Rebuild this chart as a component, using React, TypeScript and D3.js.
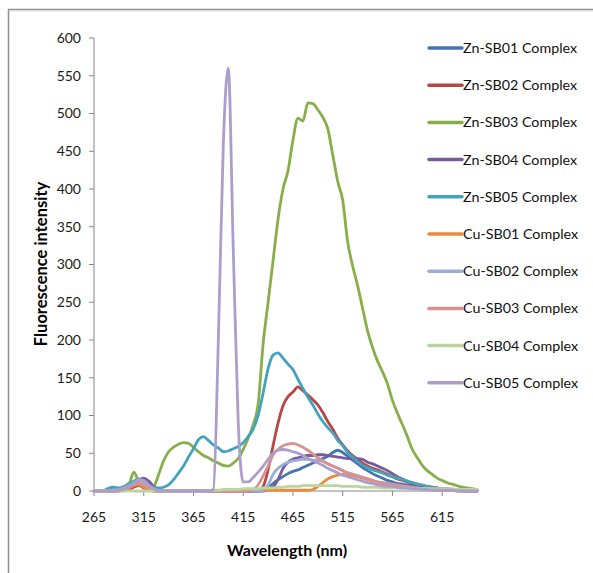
import React from "react";
import * as d3 from "d3";

// Wavelength grid (nm), 5 nm steps
const wavelengths: number[] = d3.range(265, 651, 5);

const seriesNames: string[] = [
  "Zn-SB01 Complex", "Zn-SB02 Complex", "Zn-SB03 Complex", "Zn-SB04 Complex", "Zn-SB05 Complex",
  "Cu-SB01 Complex", "Cu-SB02 Complex", "Cu-SB03 Complex", "Cu-SB04 Complex", "Cu-SB05 Complex",
];
const seriesColors: string[] = [
  "#4674B4", "#B54744", "#87AE48", "#765A9C", "#43A3BF",
  "#EE8A3E", "#97AFD8", "#D9918F", "#BCD49D", "#AC9DCB",
];

// values for 265..650 every 5 nm (78 values each)
const znSB01: number[] = [
  0, 0, 0, 0, 0, 1, 2, 4, 6, 8, 7, 4, 2, 1, 0, 0, 0, 0, 0, 0,
  0, 0, 0, 0, 0, 0, 0, 0, 0, 0, 0, 0, 0, 0, 1, 4, 10, 15, 19, 23,
  26, 28, 31, 34, 37, 40, 43, 46, 51, 54, 51, 46, 41, 36, 31, 27, 23, 20, 17, 14,
  12, 10, 9, 8, 7, 6, 5, 4, 3, 3, 2, 2, 1, 1, 1, 0, 0, 0,
];
const znSB02: number[] = [
  0, 0, 0, 0, 0, 0, 1, 2, 5, 7, 4, 1, 0, 0, 0, 0, 0, 0, 0, 0,
  0, 0, 0, 0, 0, 0, 0, 0, 0, 0, 0, 0, 0, 1, 6, 28, 60, 90, 113, 125,
  131, 138, 133, 127, 121, 114, 104, 92, 82, 70, 61, 53, 47, 42, 37, 33, 30, 28, 25, 22,
  19, 16, 14, 12, 10, 8, 6, 5, 4, 3, 2, 2, 1, 1, 1, 0, 0, 0,
];
const znSB03: number[] = [
  0, 0, 0, 0, 0, 1, 3, 8, 25, 12, 5, 4, 6, 22, 40, 52, 58, 62, 64, 63,
  58, 52, 47, 44, 40, 37, 34, 33, 37, 43, 55, 70, 88, 115, 195, 250, 305, 360, 400, 424,
  465, 494, 490, 514, 513, 505, 495, 480, 445, 410, 385, 330, 298, 272, 242, 212, 190, 172, 158, 142,
  120, 103, 88, 72, 55, 44, 34, 27, 22, 17, 14, 11, 9, 7, 5, 4, 3, 2,
];
const znSB04: number[] = [
  0, 0, 0, 0, 0, 1, 3, 6, 10, 15, 17, 13, 6, 2, 0, 0, 0, 0, 0, 0,
  0, 0, 0, 0, 0, 0, 0, 0, 0, 0, 0, 0, 0, 0, 0, 1, 5, 15, 30, 38,
  42, 44, 46, 47, 47, 48, 48, 47, 46, 45, 44, 43, 43, 43, 42, 38, 36, 33, 30, 27,
  23, 19, 16, 13, 11, 9, 7, 6, 5, 4, 3, 2, 2, 1, 1, 1, 1, 1,
];
const znSB05: number[] = [
  0, 0, 1, 4, 5, 4, 6, 10, 13, 16, 12, 7, 5, 4, 5, 8, 15, 24, 33, 45,
  56, 68, 72, 67, 61, 57, 52, 53, 56, 59, 64, 72, 82, 100, 130, 162, 180, 183, 176, 168,
  161, 148, 136, 124, 114, 102, 92, 84, 77, 67, 60, 51, 45, 39, 34, 31, 28, 26, 24, 21,
  19, 17, 15, 13, 11, 9, 8, 6, 5, 4, 3, 3, 2, 2, 1, 1, 1, 1,
];
const cuSB01: number[] = [
  0, 0, 0, 0, 0, 1, 2, 4, 7, 8, 5, 2, 0, 0, 0, 0, 0, 0, 0, 0,
  0, 0, 0, 0, 0, 0, 0, 0, 0, 0, 0, 1, 1, 1, 1, 1, 1, 1, 1, 1,
  1, 1, 1, 1, 2, 6, 11, 16, 19, 21, 22, 21, 20, 19, 17, 15, 13, 11, 10, 9,
  8, 7, 6, 5, 4, 3, 3, 2, 2, 1, 1, 1, 1, 0, 0, 0, 0, 0,
];
const cuSB02: number[] = [
  0, 0, 0, 0, 1, 2, 4, 7, 11, 14, 12, 6, 2, 1, 0, 0, 0, 0, 0, 0,
  0, 0, 0, 0, 0, 0, 0, 0, 0, 0, 0, 0, 0, 0, 2, 8, 22, 30, 35, 38,
  40, 41, 42, 42, 41, 41, 39, 36, 33, 30, 27, 24, 22, 20, 18, 16, 14, 12, 11, 9,
  8, 7, 6, 5, 4, 4, 3, 3, 2, 2, 1, 1, 1, 1, 0, 0, 0, 0,
];
const cuSB03: number[] = [
  0, 0, 0, 0, 0, 1, 3, 6, 9, 10, 8, 4, 1, 0, 0, 0, 0, 0, 0, 0,
  0, 0, 0, 0, 0, 0, 0, 0, 0, 0, 0, 0, 2, 8, 20, 33, 48, 55, 60, 62,
  63, 61, 58, 54, 49, 44, 40, 36, 33, 30, 27, 24, 22, 20, 18, 16, 14, 12, 11, 10,
  9, 8, 7, 6, 5, 4, 3, 3, 2, 2, 1, 1, 1, 1, 0, 0, 0, 0,
];
const cuSB04: number[] = [
  0, 0, 0, 0, 0, 0, 0, 0, 0, 0, 0, 0, 0, 0, 0, 0, 0, 0, 0, 0,
  0, 0, 0, 0, 1, 1, 2, 2, 2, 2, 3, 3, 3, 3, 4, 4, 4, 5, 5, 6,
  6, 6, 7, 7, 7, 7, 7, 7, 7, 7, 6, 6, 6, 6, 5, 5, 5, 5, 4, 4,
  4, 4, 4, 4, 3, 3, 3, 3, 3, 3, 3, 3, 3, 2, 2, 2, 2, 2,
];
const cuSB05: number[] = [
  0, 0, 0, 0, 0, 1, 2, 5, 10, 15, 14, 8, 3, 0, 0, 0, 0, 0, 0, 0,
  0, 0, 0, 0, 2, 200, 460, 560, 320, 90, 12, 12, 18, 25, 33, 42, 50, 54, 55, 54,
  52, 50, 47, 43, 40, 37, 34, 30, 27, 24, 21, 19, 17, 15, 13, 11, 10, 8, 7, 6,
  6, 5, 4, 4, 3, 3, 2, 2, 1, 1, 1, 1, 1, 0, 0, 0, 0, 0,
];

const seriesValues: number[][] = [znSB01, znSB02, znSB03, znSB04, znSB05, cuSB01, cuSB02, cuSB03, cuSB04, cuSB05];

const xTicks: number[] = [265, 315, 365, 415, 465, 515, 565, 615];
const yTicks: number[] = [0, 50, 100, 150, 200, 250, 300, 350, 400, 450, 500, 550, 600];

const W = 593;
const H = 573;
const FONT = "Lato, 'Open Sans', sans-serif";

export default function App() {
  const x = d3.scaleLinear().domain([265, 650]).range([94, 477]);
  const y = d3.scaleLinear().domain([0, 600]).range([491, 38]);
  const line = d3
    .line<number>()
    .x((_, i) => x(wavelengths[i]))
    .y((d) => y(d))
    .curve(d3.curveMonotoneX);

  const legendY0 = 48;
  const legendStep = 37.2;

  return (
    <svg
      width={W}
      height={H}
      style={{ position: "absolute", left: 0, top: 0, background: "#fff" }}
      fontFamily={FONT}
    >
      <rect x={0} y={0} width={W} height={H} fill="#fff" />
      {/* outer frame */}
      <line x1={8} y1={9.5} x2={W} y2={9.5} stroke="#8f8f8f" strokeWidth={1.5} />
      <line x1={8.5} y1={9} x2={8.5} y2={H} stroke="#8f8f8f" strokeWidth={1.5} />
      <line x1={9} y1={11} x2={W} y2={11} stroke="#dcdcdc" strokeWidth={1} />

      {/* axes */}
      <line x1={x(265)} y1={y(0)} x2={x(650)} y2={y(0)} stroke="#868686" strokeWidth={1} />
      <line x1={x(265)} y1={y(600)} x2={x(265)} y2={y(0)} stroke="#868686" strokeWidth={1} />
      {yTicks.map((t) => (
        <g key={"y" + t}>
          <line x1={x(265) - 5} x2={x(265)} y1={y(t)} y2={y(t)} stroke="#868686" />
          <text x={81} y={y(t)} dy="0.35em" textAnchor="end" fontSize={14} fill="#1a1a1a">
            {t}
          </text>
        </g>
      ))}
      {xTicks.map((t) => (
        <g key={"x" + t}>
          <line x1={x(t)} x2={x(t)} y1={y(0)} y2={y(0) + 5} stroke="#868686" />
          <text x={x(t)} y={522} textAnchor="middle" fontSize={14} fill="#1a1a1a">
            {t}
          </text>
        </g>
      ))}

      {/* series */}
      {seriesValues.map((vals, i) => (
        <path
          key={seriesNames[i]}
          d={line(vals) || ""}
          fill="none"
          stroke={seriesColors[i]}
          strokeWidth={2.8}
          strokeLinejoin="round"
          strokeLinecap="round"
        />
      ))}

      {/* axis titles */}
      <text
        transform={`translate(47,264) rotate(-90)`}
        textAnchor="middle"
        fontSize={16.5}
        fontWeight="bold"
        fill="#000"
      >
        Fluorescence intensity
      </text>
      <text x={287} y={556} textAnchor="middle" fontSize={16} fontWeight="bold" fill="#000">
        Wavelength (nm)
      </text>

      {/* legend */}
      {seriesNames.map((name, i) => {
        const ly = legendY0 + i * legendStep;
        return (
          <g key={"lg" + name}>
            <line x1={429} x2={462} y1={ly} y2={ly} stroke={seriesColors[i]} strokeWidth={3.5} strokeLinecap="round" />
            <text x={463} y={ly} dy="0.35em" fontSize={14.3} fill="#111">
              {name}
            </text>
          </g>
        );
      })}
    </svg>
  );
}
